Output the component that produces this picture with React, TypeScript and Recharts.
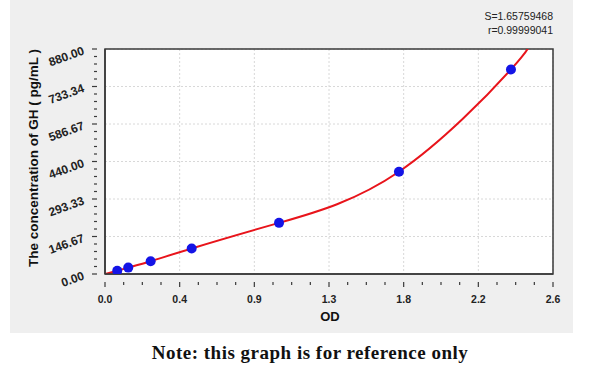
import { ComposedChart, Line, Scatter, XAxis, YAxis, CartesianGrid, ReferenceArea } from 'recharts';

// standard points
const odValues = [0.071, 0.135, 0.265, 0.503, 1.01, 1.706, 2.356];
const ghValues = [12.5, 25, 50, 100, 200, 400, 800];

// fitted curve, passes through the standards and leaves the frame at the top
const curveOd = [0, ...odValues, 2.45];
const curveGh = [0, ...ghValues, 900];

const xTickLabels = ['0.0', '0.4', '0.9', '1.3', '1.8', '2.2', '2.6'];
const yTickLabels = ['0.00', '146.67', '293.33', '440.00', '586.67', '733.34', '880.00'];

const X_MAX = 2.6;
const Y_MAX = 880;
const X_MINOR = 4;
const Y_MINOR = 5;

const points = odValues.map((od, i) => ({ od, gh: ghValues[i] }));
const curve = curveOd.map((od, i) => ({ od, fit: curveGh[i] }));

const xMajor = xTickLabels.map((_, i) => (i * X_MAX) / (xTickLabels.length - 1));
const yMajor = yTickLabels.map((_, i) => (i * Y_MAX) / (yTickLabels.length - 1));
const xTicks = Array.from({ length: (xTickLabels.length - 1) * X_MINOR + 1 }, (_, i) => (i * X_MAX) / ((xTickLabels.length - 1) * X_MINOR));
const yTicks = Array.from({ length: (yTickLabels.length - 1) * Y_MINOR + 1 }, (_, i) => (i * Y_MAX) / ((yTickLabels.length - 1) * Y_MINOR));

const axisColor = '#3a3a3a';
const font = 'Arial, "Liberation Sans", sans-serif';

function XTick(props: any) {
  const { x, y, index } = props;
  const major = index % X_MINOR === 0;
  return (
    <g transform={`translate(${x},${y})`}>
      <line x1={0} x2={0} y1={0} y2={major ? 5 : 3} stroke={axisColor} strokeWidth={1.2} />
      {major && (
        <text x={0} y={21} textAnchor="middle" fontSize={10.5} fontWeight="bold" fill="#222" fontFamily={font}>
          {xTickLabels[index / X_MINOR]}
        </text>
      )}
    </g>
  );
}

function YTick(props: any) {
  const { x, y, index } = props;
  const major = index % Y_MINOR === 0;
  return (
    <g transform={`translate(${x},${y})`}>
      <line x1={0} x2={major ? -5 : -3} y1={0} y2={0} stroke={axisColor} strokeWidth={1.2} />
      {major && (
        <text x={-12} y={5} textAnchor="end" fontSize={12} fontWeight="bold" fill="#222" fontFamily={font} transform="rotate(-20, -12, 5)">
          {yTickLabels[index / Y_MINOR]}
        </text>
      )}
    </g>
  );
}

export default function App() {
  return (
    <div style={{ position: 'absolute', left: 0, top: 0, width: 600, height: 387, background: '#fff' }}>
      <div style={{ position: 'absolute', left: 10, top: 0, width: 563, height: 333, background: '#efefef' }}>
        <ComposedChart
          width={563}
          height={333}
          margin={{ top: 49, right: 20, left: 35, bottom: 29 }}
        >
          <CartesianGrid
            fill="#fff"
            stroke="#d8d8d8"
            strokeDasharray="2 2"
            verticalValues={xMajor}
            horizontalValues={yMajor}
          />
          <XAxis
            type="number"
            dataKey="od"
            domain={[0, X_MAX]}
            ticks={xTicks}
            interval={0}
            tick={<XTick />}
            tickLine={false}
            height={30}
            axisLine={{ stroke: axisColor, strokeWidth: 1.5 }}
          />
          <YAxis
            type="number"
            domain={[0, Y_MAX]}
            ticks={yTicks}
            interval={0}
            tick={<YTick />}
            tickLine={false}
            width={60}
            allowDataOverflow
            axisLine={{ stroke: axisColor, strokeWidth: 1.5 }}
          />
          <ReferenceArea x1={0} x2={X_MAX} y1={0} y2={Y_MAX} fill="none" stroke={axisColor} strokeWidth={1.5} />
          <Line
            data={curve}
            dataKey="fit"
            type="natural"
            stroke="#e8141b"
            strokeWidth={2}
            dot={false}
            activeDot={false}
            isAnimationActive={false}
          />
          <Scatter
            data={points}
            dataKey="gh"
            fill="#1414e6"
            shape={(p: any) => <circle cx={p.cx} cy={p.cy} r={5} fill="#1414e6" />}
            isAnimationActive={false}
          />
        </ComposedChart>
        <div style={{ position: 'absolute', right: 20, top: 9, textAlign: 'right', fontFamily: font, fontSize: 10.5, lineHeight: '14px', color: '#222' }}>
          <div>S=1.65759468</div>
          <div>r=0.99999041</div>
        </div>
        <div style={{ position: 'absolute', left: 23, top: 158, width: 0, height: 0 }}>
          <div style={{ position: 'absolute', transform: 'translate(-50%, -50%) rotate(-90deg)', whiteSpace: 'nowrap', fontFamily: font, fontSize: 13.5, fontWeight: 'bold', color: '#111' }}>
            The concentration of GH ( pg/mL )
          </div>
        </div>
        <div style={{ position: 'absolute', left: 320, top: 309, width: 0 }}>
          <div style={{ position: 'absolute', transform: 'translateX(-50%)', fontFamily: font, fontSize: 13, fontWeight: 'bold', color: '#111' }}>OD</div>
        </div>
      </div>
      <div style={{ position: 'absolute', left: 0, width: 620, top: 342, textAlign: 'center', fontFamily: '"Liberation Serif", "DejaVu Serif", serif', fontSize: 19, letterSpacing: 0.5, fontWeight: 'bold', color: '#111' }}>
        Note: this graph is for reference only
      </div>
    </div>
  );
}
